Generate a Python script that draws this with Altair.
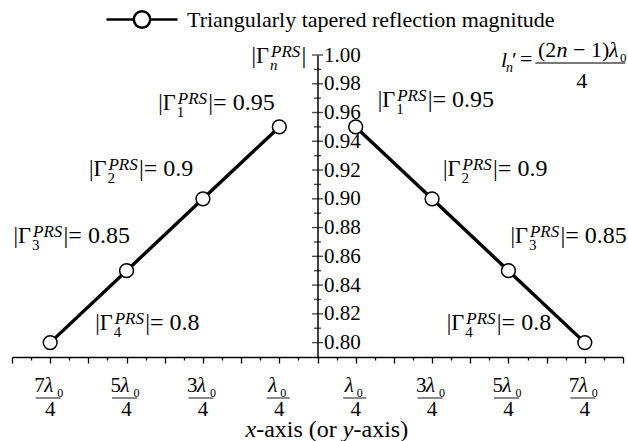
import altair as alt
import numpy as np
import pandas as pd

SERIF = "Liberation Serif"

# Element positions along the aperture, in units of lambda0/4 (negative = left half)
positions = [-7, -5, -3, -1, 1, 3, 5, 7]
# Reflection magnitude |Gamma_n^PRS| of each element
magnitudes = [0.80, 0.85, 0.90, 0.95, 0.95, 0.90, 0.85, 0.80]
# Element index n (counted outward from the centre)
element_n = [4, 3, 2, 1, 1, 2, 3, 4]
halves = ["left", "left", "left", "left", "right", "right", "right", "right"]
# Numerator multipliers of the x tick labels  (k*lambda0 / 4)
tick_multipliers = ["7", "5", "3", "", "", "3", "5", "7"]
series_name = "Triangularly tapered reflection magnitude"

y_major = [0.80, 0.82, 0.84, 0.86, 0.88, 0.90, 0.92, 0.94, 0.96, 0.98, 1.00]
y_minor = [0.81, 0.83, 0.85, 0.87, 0.89, 0.91, 0.93, 0.95, 0.97, 0.99]
x_ticks = [float(v) for v in np.arange(-8, 8.5, 0.5)]

W, H = 611, 302

df = pd.DataFrame({
    "pos": positions,
    "mag": magnitudes,
    "n": element_n,
    "half": halves,
    "mult": tick_multipliers,
    "series": series_name,
})
one = pd.DataFrame({"k": [0]})

x_scale = alt.Scale(domain=[-8, 8], nice=False, zero=False)
y_scale = alt.Scale(domain=[0.79, 1.0], nice=False, zero=False)

legend_path = ("M-1,0H-0.23M0.23,0H1"
               "M-0.23,0A0.23,0.23 0 1,1 0.23,0A0.23,0.23 0 1,1 -0.23,0Z")

line = alt.Chart(df).mark_line(strokeWidth=3.4).encode(
    x=alt.X("pos:Q", scale=x_scale, axis=alt.Axis(
        values=x_ticks, tickCount=len(x_ticks), labels=False, title=None, grid=False,
        tickSize={"condition": {"test": "datum.value % 1 === 0", "value": 6}, "value": 3},
        tickColor="black", tickWidth=1.3, domainColor="black", domainWidth=1.5)),
    y=alt.Y("mag:Q", scale=y_scale, axis=alt.Axis(
        orient="right", offset=-W / 2, values=y_major, tickCount=len(y_major),
        format=".2f", ticks=False, labelOverlap=False, labelPadding=6,
        labelFont=SERIF, labelFontSize=21, labelColor="black",
        domainColor="black", domainWidth=1.5, grid=False, title=None)),
    color=alt.Color("series:N", scale=alt.Scale(range=["black"]), legend=alt.Legend(
        title=None, orient="none", legendX=93, legendY=-72.5, padding=0,
        symbolType=legend_path, symbolSize=5041, symbolStrokeWidth=2.5,
        symbolFillColor="white", symbolStrokeColor="black",
        labelFont=SERIF, labelFontSize=22, labelColor="black",
        labelLimit=600, labelOffset=8)),
    detail="half:N",
)

points = alt.Chart(df).mark_point(
    shape="circle", filled=True, fill="white", stroke="black",
    strokeWidth=1.5, size=190, opacity=1,
).encode(x="pos:Q", y="mag:Q")

# crossing ticks on the central magnitude axis
major_ticks = alt.Chart(pd.DataFrame({"mag": y_major})).mark_tick(
    orient="horizontal", size=11, thickness=1.4, color="black"
).encode(x=alt.datum(0), y="mag:Q")
minor_ticks = alt.Chart(pd.DataFrame({"mag": y_minor})).mark_tick(
    orient="horizontal", size=7, thickness=1.4, color="black"
).encode(x=alt.datum(0), y="mag:Q")


def piece(data, x, y, text, size, dx, dy, italic=False, align="left"):
    return alt.Chart(data).mark_text(
        text=text, font=SERIF, fontSize=size,
        fontStyle="italic" if italic else "normal",
        align=align, baseline="alphabetic", dx=dx, dy=dy, color="black",
    ).encode(x=x, y=y)


def gamma_label(data, x, y, sub, tail, dx, dy, sub_italic=False):
    """|Gamma_sub^PRS| followed by tail, anchored at the start of the first bar."""
    return [
        piece(data, x, y, "|\u0393", 22.5, dx, dy),
        piece(data, x, y, sub, 15, dx + 18.5, dy + 7, italic=sub_italic),
        piece(data, x, y, "PRS", 17, dx + 19.5, dy - 6, italic=True),
        piece(data, x, y, tail, 24, dx + 50, dy),
    ]


# pixel offsets of each magnitude annotation from its marker
label_offsets = [(45, -13), (-113, -28), (-114, -23), (-121, -17),
                 (22, -20), (11, -23), (2, -28), (-138, -13)]

annotations = []
for i in range(len(positions)):
    row = df.iloc[[i]]
    ox, oy = label_offsets[i]
    annotations += gamma_label(row, "pos:Q", "mag:Q", str(element_n[i]),
                               f"|= {magnitudes[i]:g}", ox, oy)

# axis title of the magnitude axis
y_title = gamma_label(one, alt.datum(0), alt.datum(1.0), "n", "|", -66, 8,
                      sub_italic=True)

# l_n' = (2n - 1) lambda0 / 4
fx, fy = alt.datum(8), alt.datum(1.0)
formula = [
    piece(one, fx, fy, "l", 22, -122, 12, italic=True),
    piece(one, fx, fy, "n", 14, -117, 17, italic=True),
    piece(one, fx, fy, "\u2032", 22, -111, 12),
    piece(one, fx, fy, "=", 22, -103, 11),
    piece(one, fx, fy, "(2", 22, -85, 2),
    piece(one, fx, fy, "n", 22, -66.5, 2, italic=True),
    piece(one, fx, fy, "\u2212", 22, -50, 2),
    piece(one, fx, fy, "1)", 22, -32, 2),
    piece(one, fx, fy, "\u03bb", 22, -14, 2, italic=True),
    piece(one, fx, fy, "0", 13, -3, 7),
    alt.Chart(one).mark_tick(orient="horizontal", size=90, thickness=1.3,
                             color="black", xOffset=-42.7, yOffset=8)
    .encode(x=fx, y=fy),
    piece(one, fx, fy, "4", 22, -46.7, 33),
]

# fraction tick labels  k*lambda0 / 4
with_k = df[df["mult"] != ""]
plain = df[df["mult"] == ""]
num_y, sub_y, bar_y, den_y = alt.value(337), alt.value(342), alt.value(343), alt.value(361)
fractions = [
    alt.Chart(with_k).mark_text(font=SERIF, fontSize=21, align="left",
                                baseline="alphabetic", dx=-16, color="black")
    .encode(x="pos:Q", y=num_y, text="mult:N"),
    piece(with_k, "pos:Q", num_y, "\u03bb", 21, -6, 0, italic=True),
    piece(with_k, "pos:Q", sub_y, "0", 12, 7, 0),
    piece(plain, "pos:Q", num_y, "\u03bb", 21, -11, 0, italic=True),
    piece(plain, "pos:Q", sub_y, "0", 12, 1, 0),
    alt.Chart(with_k).mark_tick(orient="horizontal", size=25, thickness=1.3,
                                color="black", xOffset=-2)
    .encode(x="pos:Q", y=bar_y),
    alt.Chart(plain).mark_tick(orient="horizontal", size=23, thickness=1.3,
                               color="black", xOffset=-1)
    .encode(x="pos:Q", y=bar_y),
    piece(df, "pos:Q", den_y, "4", 21, 0, 0, align="center"),
]

# x-axis title with italic axis letters
tx, ty = alt.datum(0), alt.value(382)
x_title = [
    piece(one, tx, ty, "x", 24, -72, 0, italic=True),
    piece(one, tx, ty, "-axis (or", 24, -61.3, 0),
    piece(one, tx, ty, "y", 24, 25.3, 0, italic=True),
    piece(one, tx, ty, "-axis)", 24, 36, 0),
]

chart = alt.layer(
    line, major_ticks, minor_ticks, points,
    *annotations, *y_title, *formula, *fractions, *x_title,
).properties(
    width=W, height=H,
    padding={"left": 12, "top": 55, "right": 5, "bottom": 84},
    autosize=alt.AutoSizeParams(type="none"),
    background="white",
).configure_view(stroke=None)

chart.save("out.html", embed_options={"renderer": "svg", "actions": False})
